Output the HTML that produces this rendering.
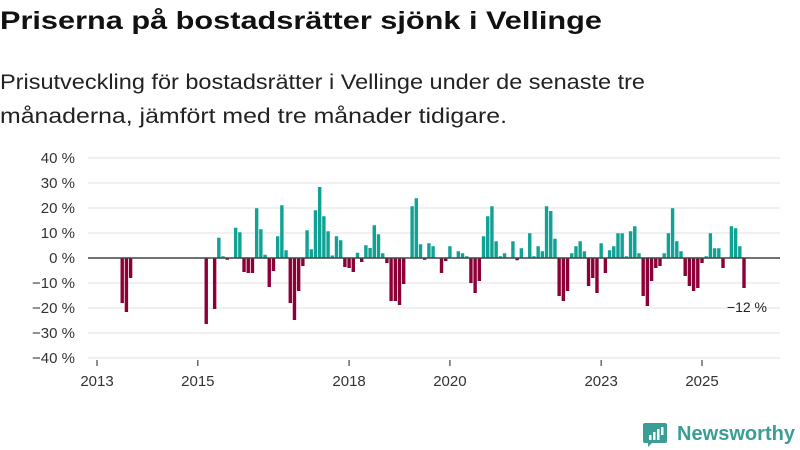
<!DOCTYPE html>
<html><head><meta charset="utf-8"><style>
body{margin:0;background:#fff;}
svg{display:block;font-family:"Liberation Sans",sans-serif;}
</style></head><body>
<svg id="chart" width="800" height="450" viewBox="0 0 800 450">
<text x="0" y="29" font-size="25" font-weight="bold" fill="#111" textLength="602" lengthAdjust="spacingAndGlyphs">Priserna på bostadsrätter sjönk i Vellinge</text>
<text x="0" y="89" font-size="21" fill="#222" textLength="645" lengthAdjust="spacingAndGlyphs">Prisutveckling för bostadsrätter i Vellinge under de senaste tre</text>
<text x="0" y="123" font-size="21" fill="#222" textLength="507" lengthAdjust="spacingAndGlyphs">månaderna, jämfört med tre månader tidigare.</text>
<g id="grid"></g><g id="bars"></g><g id="axes"></g>
<text x="767" y="312" font-size="14" fill="#222" text-anchor="end">−12 %</text>
<g>
<path d="M645 423 h20 a2 2 0 0 1 2 2 v16 a2 2 0 0 1 -2 2 h-13 l-4 4 v-4 h-3 a2 2 0 0 1 -2 -2 v-16 a2 2 0 0 1 2 -2z" fill="#3a9e95"/>
<rect x="649" y="435" width="2.5" height="5" fill="#fff"/><rect x="653" y="432" width="2.5" height="8" fill="#fff"/><rect x="657" y="429" width="2.5" height="11" fill="#fff"/><rect x="661" y="427" width="2.5" height="8" fill="#fff"/>
<text x="677" y="440" font-size="20" font-weight="bold" fill="#3a9e95" textLength="118" lengthAdjust="spacingAndGlyphs">Newsworthy</text>
</g>
</svg>
<script>
const yTicks=[40,30,20,10,0,-10,-20,-30,-40];
const yearLabels=["2013","2015","2018","2020","2023","2025"];
const yearTickMonths=[0,24,60,84,120,144];
const startYear=2013;
const values=[null,null,null,null,null,null,-18,-21.6,-8,null,null,null,null,null,null,null,null,null,null,null,null,null,null,null,null,null,
-26.4,null,-20.4,8.1,0.7,-0.7,null,12.1,10.3,-5.6,-6,-6,19.9,11.5,1.3,-11.6,-5.2,8.7,21.1,3.1,-18,-24.8,-13.2,-3.2,11.1,3.5,19.1,28.4,16.7,
10.7,1,8.7,7.1,-3.6,-4,-5.6,2.1,-1.6,5.1,4,13.1,9.5,1.9,-2,-17.2,-17.2,-18.8,-10.4,null,20.7,23.9,5.5,-0.7,5.9,4.7,null,-6,-1.2,4.7,null,
2.7,1.9,0.7,-10,-14,-9.2,8.7,16.7,20.7,6.7,0.7,1.9,null,6.7,-0.9,3.9,null,9.9,0.7,4.7,2.7,20.7,18.8,7.7,
-15.2,-17.2,-13.2,1.9,4.7,6.7,2.7,-11.2,-8,-14,5.9,-6,3.1,4.7,9.9,9.9,0.7,10.7,12.7,1.9,-15.2,-19.2,-9.2,-4,-3.2,1.9,9.9,19.9,6.7,2.7,
-7.2,-11.2,-13.2,-12,-2,0.7,9.9,3.9,3.9,-4,null,12.7,11.9,4.7,-12];
const NS="http://www.w3.org/2000/svg";
const x=m=>97+m*(605/144);
const y=v=>258-v*2.5;
function mk(tag,attrs,parent){const e=document.createElementNS(NS,tag);for(const k in attrs)e.setAttribute(k,attrs[k]);parent.appendChild(e);return e;}
const grid=document.getElementById('grid'),bars=document.getElementById('bars'),axes=document.getElementById('axes');
yTicks.forEach(t=>{
 if(t!==0){const l=mk('line',{x1:88,x2:780,y1:y(t),y2:y(t),stroke:'#e0e0e0','stroke-width':1},grid);
 
 }
 const tx=mk('text',{x:75,y:y(t)+5,'font-size':15,fill:'#333','text-anchor':'end'},axes);
 tx.textContent=(t<0?'−'+(-t):t)+' %';
 
 
});
values.forEach((v,i)=>{
 if(v===null)return;
 const r=mk('rect',{x:x(i)-1.7,width:3.4,y:Math.min(y(v),y(0)),height:Math.abs(y(v)-y(0)),fill:v>=0?'#0fa295':'#8c0037'},bars);
 
 
});
const z=mk('line',{x1:88,x2:780,y1:y(0),y2:y(0),stroke:'#444','stroke-width':1.6},axes);


yearLabels.forEach((lab,i)=>{
 const m=yearTickMonths[i];
 const tk=mk('line',{x1:x(m),x2:x(m),y1:360,y2:366,stroke:'#444','stroke-width':1.2},axes);
 
 
 const t=mk('text',{x:x(m),y:386,'font-size':15,fill:'#333','text-anchor':'middle'},axes);
 t.textContent=lab;
 
 
});
</script>
</body></html>
